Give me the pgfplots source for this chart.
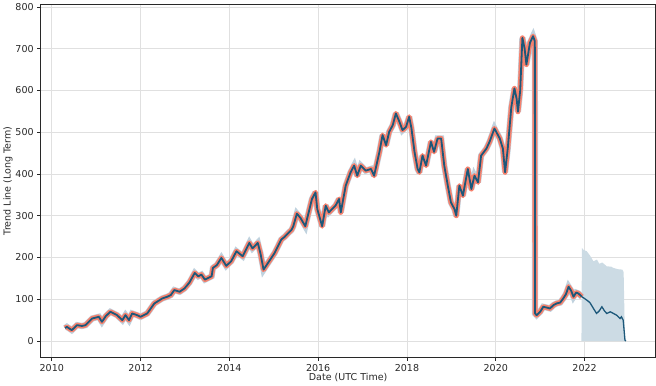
\documentclass[border=0pt]{standalone}
\usepackage{pgfplots}
\pgfplotsset{compat=1.18}
\usepackage{fontspec}
\setmainfont{DejaVu Sans}
\definecolor{trend}{RGB}{28,88,122}
\definecolor{salm}{RGB}{246,130,110}
\definecolor{band}{RGB}{192,210,222}
\definecolor{fband}{RGB}{204,219,228}
\definecolor{gridc}{RGB}{224,224,224}
\definecolor{tickc}{RGB}{40,40,40}
\pgfplotstableread{
x y
2010.30 31
2010.34 34
2010.45 26
2010.57 38
2010.68 36
2010.76 38
2010.91 54
2011.06 58
2011.13 46
2011.22 60
2011.32 70
2011.47 62
2011.59 50
2011.66 62
2011.74 50
2011.81 66
2011.92 62
2012.00 58
2012.15 66
2012.31 90
2012.40 96
2012.49 102
2012.60 106
2012.68 110
2012.76 122
2012.88 118
2012.99 126
2013.10 140
2013.22 163
2013.30 155
2013.37 159
2013.45 147
2013.60 155
2013.63 175
2013.72 182
2013.82 199
2013.93 180
2014.04 191
2014.16 215
2014.30 203
2014.45 235
2014.52 222
2014.57 227
2014.64 235
2014.70 210
2014.77 171
2014.87 187
2015.02 211
2015.17 243
2015.25 250
2015.33 259
2015.40 266
2015.44 275
2015.52 305
2015.60 295
2015.71 275
2015.86 340
2015.94 356
2015.98 316
2016.09 275
2016.17 324
2016.24 308
2016.39 324
2016.47 340
2016.51 308
2016.62 372
2016.73 404
2016.81 420
2016.88 396
2016.96 420
2017.07 408
2017.19 412
2017.26 396
2017.38 453
2017.45 493
2017.53 469
2017.60 501
2017.68 517
2017.75 545
2017.83 525
2017.90 505
2017.98 513
2018.05 537
2018.10 510
2018.17 453
2018.24 412
2018.28 404
2018.35 444
2018.43 420
2018.54 477
2018.61 453
2018.69 485
2018.77 485
2018.84 420
2018.92 372
2018.99 332
2019.07 316
2019.11 300
2019.18 372
2019.26 348
2019.37 412
2019.45 364
2019.52 396
2019.60 380
2019.67 444
2019.79 461
2019.86 477
2019.97 509
2020.09 485
2020.16 461
2020.21 404
2020.27 461
2020.35 560
2020.42 605
2020.47 580
2020.50 549
2020.55 600
2020.60 726
2020.65 700
2020.69 662
2020.77 714
2020.84 730
2020.88 718
2020.885 66
2020.92 62
2021.00 70
2021.07 82
2021.15 80
2021.22 78
2021.30 86
2021.37 90
2021.45 92
2021.52 102
2021.58 112
2021.64 130
2021.70 120
2021.75 106
2021.81 116
2021.86 114
2021.94 106
}\hist
\pgfplotstableread{
x y
2021.94 106
2022.05 98
2022.12 92
2022.20 78
2022.27 66
2022.33 72
2022.39 82
2022.45 72
2022.50 66
2022.58 70
2022.65 66
2022.72 62
2022.80 54
2022.83 58
2022.87 50
2022.91 2
2022.93 0
}\fcst
\begin{document}
\begin{tikzpicture}
\begin{axis}[
  scale only axis, width=611bp, height=350bp,
  xmin=2009.75, xmax=2023.6, ymin=-38.5, ymax=805,
  xtick={2010,2012,...,2022}, ytick={0,100,...,800},
  xticklabel style={/pgf/number format/1000 sep={}},
  /pgf/number format/assume math mode=true,
  tick label style={font=\fontsize{9.5}{11}\selectfont, text=tickc},
  label style={font=\fontsize{9.5}{11}\selectfont, text=tickc},
  xlabel={Date (UTC Time)}, ylabel={Trend Line (Long Term)},
  xlabel style={yshift=5pt}, ylabel style={yshift=-4pt},
  grid=major, grid style={gridc, line width=0.6pt},
  tick align=outside, tick pos=left, major tick length=3.5pt,
  axis line style={tickc, line width=0.8pt},
  every tick/.style={tickc, line width=0.8pt},
]
\addplot[fill=fband, draw=none] coordinates {
(2021.93,0) (2021.94,223) (2021.98,218) (2022.05,215) (2022.12,205) (2022.20,191)
(2022.28,195) (2022.33,185) (2022.40,188) (2022.50,179) (2022.60,178) (2022.65,175)
(2022.75,172) (2022.85,171) (2022.88,165) (2022.91,0)} -- cycle;
\addplot[band, line width=6.2pt, line join=miter, miter limit=3] table {\hist};
\addplot[salm, line width=5pt, line join=round] table {\hist};
\addplot[trend, line width=1.8pt, line join=round] table {\hist};
\addplot[trend, line width=1.3pt] table {\fcst};
\end{axis}
\end{tikzpicture}
\end{document}
